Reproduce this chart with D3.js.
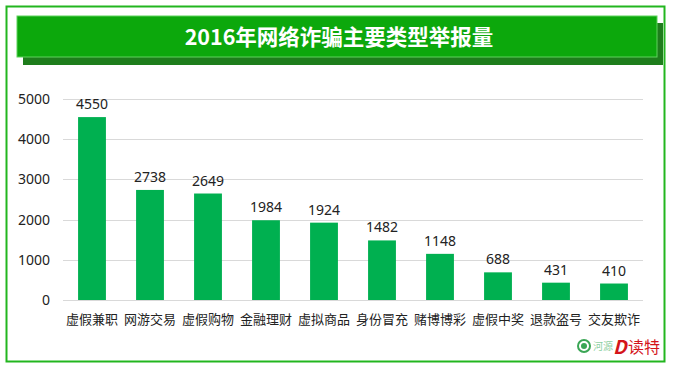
<!DOCTYPE html>
<meta charset="utf-8">
<script src="https://d3js.org/d3.v7.min.js"></script>
<style>
  body { margin: 0; background: #fff; }
  text { font-family: "Noto Sans CJK SC", "Noto Sans", sans-serif; }
</style>
<div id="my_dataviz"></div>
<script>
    var categories = ["虚假兼职", "网游交易", "虚假购物", "金融理财", "虚拟商品",
                      "身份冒充", "赌博博彩", "虚假中奖", "退款盗号", "交友欺诈"];
    var counts = [4550, 2738, 2649, 1984, 1924, 1482, 1148, 688, 431, 410];
    var yTicks = [0, 1000, 2000, 3000, 4000, 5000];
    var title = "2016年网络诈骗主要类型举报量";

    var W = 674, H = 367;
    var margin = { top: 99, right: 31, bottom: 67, left: 63 },
        width = W - margin.left - margin.right,
        height = H - margin.top - margin.bottom;

    var root = d3.select("#my_dataviz")
        .append("svg")
        .attr("width", W)
        .attr("height", H);

    // outer frame
    root.append("rect")
        .attr("x", 6.5).attr("y", 6.5)
        .attr("width", 658).attr("height", 355)
        .attr("fill", "none")
        .attr("stroke", "#22b61f")
        .attr("stroke-width", 2);

    // title banner with shadow
    root.append("rect")
        .attr("x", 23).attr("y", 23)
        .attr("width", 640).attr("height", 42)
        .attr("fill", "#1e7d1c");
    root.append("rect")
        .attr("x", 17).attr("y", 16)
        .attr("width", 640).attr("height", 41)
        .attr("fill", "#0ca80c")
        .attr("stroke", "#5fd35c")
        .attr("stroke-width", 1);
    root.append("text")
        .attr("x", 339).attr("y", 37)
        .attr("dy", "0.36em")
        .attr("text-anchor", "middle")
        .attr("fill", "#fff")
        .style("font-size", "21.5px")
        .style("font-weight", "bold")
        .text(title);

    var svg = root.append("g")
        .attr("transform", "translate(" + margin.left + "," + margin.top + ")");

    var x = d3.scaleBand()
        .domain(categories)
        .range([0, width])
        .paddingInner(0.52)
        .paddingOuter(0.26);

    var y = d3.scaleLinear()
        .domain([0, 5000])
        .range([height, 0]);

    // gridlines
    svg.append("g")
        .selectAll("line")
        .data(yTicks)
        .enter()
        .append("line")
        .attr("x1", 0).attr("x2", width)
        .attr("y1", function (d) { return Math.round(y(d)) + 0.5; })
        .attr("y2", function (d) { return Math.round(y(d)) + 0.5; })
        .attr("stroke", "#d9d9d9");

    // y axis labels
    var yAxis = svg.append("g")
        .call(d3.axisLeft(y).tickValues(yTicks).tickFormat(d3.format("d"))
            .tickSize(0).tickPadding(13));
    yAxis.select(".domain").remove();
    yAxis.selectAll("text")
        .style("font-size", "14px")
        .style("font-family", "'Noto Sans', sans-serif")
        .attr("fill", "#222");

    // bars
    svg.append("g")
        .selectAll("rect")
        .data(counts)
        .enter()
        .append("rect")
        .attr("x", function (d, i) { return x(categories[i]); })
        .attr("y", function (d) { return y(d); })
        .attr("width", x.bandwidth())
        .attr("height", function (d) { return height - y(d); })
        .attr("fill", "#00b050");

    // value labels
    svg.append("g")
        .selectAll("text")
        .data(counts)
        .enter()
        .append("text")
        .attr("x", function (d, i) { return x(categories[i]) + x.bandwidth() / 2; })
        .attr("y", function (d) { return y(d) - 8; })
        .attr("text-anchor", "middle")
        .attr("fill", "#222")
        .style("font-size", "14px")
        .style("font-family", "'Noto Sans', sans-serif")
        .text(function (d) { return d; });

    // category labels
    var xAxis = svg.append("g")
        .attr("transform", "translate(0," + height + ")")
        .call(d3.axisBottom(x).tickSize(0).tickPadding(15));
    xAxis.select(".domain").remove();
    xAxis.selectAll("text")
        .style("font-size", "13px")
        .attr("fill", "#222");

    // logo in the corner
    var logo = root.append("g").attr("transform", "translate(584,346)");
    logo.append("circle").attr("r", 6).attr("fill", "none")
        .attr("stroke", "#3aa655").attr("stroke-width", 2);
    logo.append("circle").attr("r", 3).attr("fill", "#3aa655");
    logo.append("text").attr("x", 9).attr("y", 4)
        .attr("fill", "#8fd0a2").style("font-size", "10px").text("河源");
    logo.append("text").attr("x", 29).attr("y", 8)
        .attr("fill", "#d4141b").style("font-size", "19px")
        .style("font-weight", "bold").style("font-style", "italic").text("D");
    logo.append("text").attr("x", 44).attr("y", 7)
        .attr("fill", "#d4141b").style("font-size", "16px").text("读特");
</script>
